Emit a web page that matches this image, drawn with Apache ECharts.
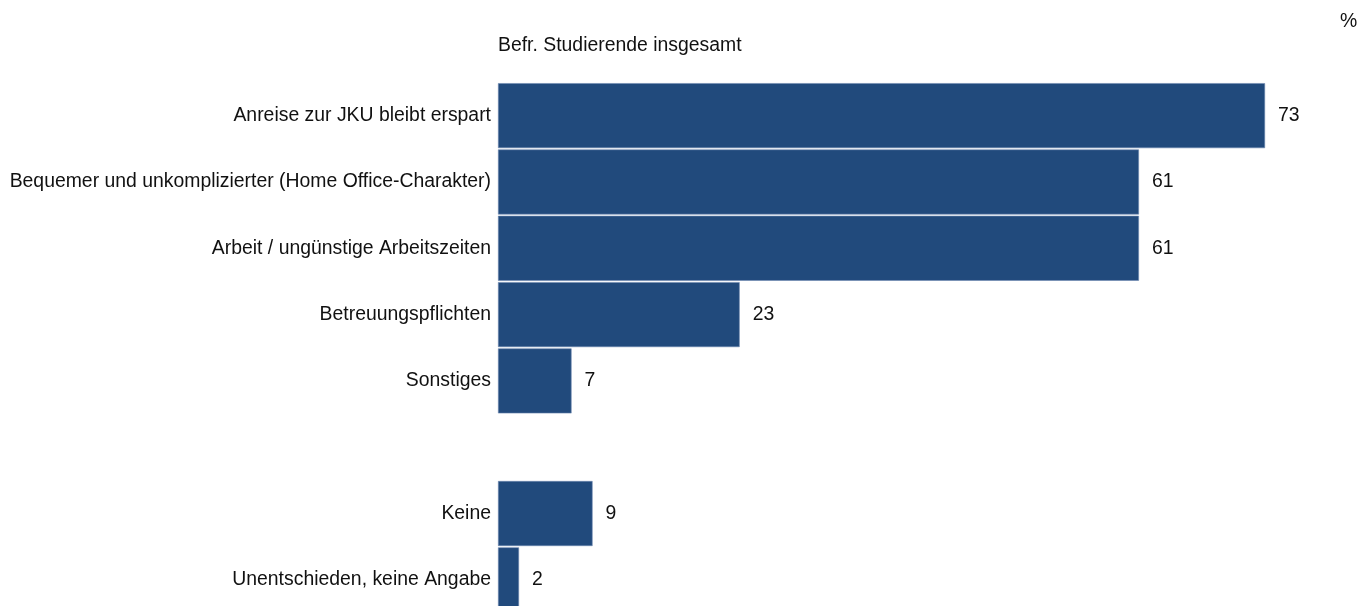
<!DOCTYPE html>
<html>
<head>
<meta charset="utf-8">
<script src="https://cdn.jsdelivr.net/npm/echarts@6/dist/echarts.min.js"></script>
<style>
  html, body { margin: 0; padding: 0; background: #fff; }
  #chart { width: 1371px; height: 606px; }
</style>
</head>
<body>
<div id="chart"></div>
<script>
// Reasons, top to bottom; the empty entry leaves a blank row before the last group
const categories = [
  'Anreise zur JKU bleibt erspart',
  'Bequemer und unkomplizierter (Home Office-Charakter)',
  'Arbeit / ungünstige Arbeitszeiten',
  'Betreuungspflichten',
  'Sonstiges',
  '',
  'Keine',
  'Unentschieden, keine Angabe'
];
// Share of respondents in percent (null = blank row)
const values = [73, 61, 61, 23, 7, null, 9, 2];

const groupTitle = 'Befr. Studierende insgesamt';
const unitLabel = '%';

const chart = echarts.init(document.getElementById('chart'), null, { renderer: 'canvas' });
const font = 'Liberation Sans, Arial, sans-serif';
const fs = 19.4;

chart.setOption({
  animation: false,
  backgroundColor: '#ffffff',
  textStyle: { fontFamily: font },
  graphic: [
    {
      type: 'text', left: 498, top: 36,
      style: { text: groupTitle, font: fs + 'px ' + font, fill: '#111111' }
    },
    {
      type: 'text', left: 1340, top: 12,
      style: { text: unitLabel, font: fs + 'px ' + font, fill: '#111111' }
    }
  ],
  grid: {
    left: 498, top: 82.5, width: 840.6, height: 530.5,
    outerBoundsMode: 'none'
  },
  xAxis: {
    type: 'value', min: 0, max: 80,
    show: false
  },
  yAxis: {
    type: 'category',
    inverse: true,
    data: categories,
    axisLine: { show: false },
    axisTick: { show: false },
    axisLabel: { margin: 7, fontSize: fs, color: '#111111', fontFamily: font }
  },
  series: [{
    type: 'bar',
    data: values,
    barCategoryGap: '2%',
    itemStyle: { color: '#214a7c', borderColor: '#6d88b0', borderWidth: 0.6 },
    label: {
      show: true, position: 'right', distance: 13,
      fontSize: fs, color: '#111111', fontFamily: font,
      formatter: p => (p.value == null ? '' : String(p.value))
    }
  }]
});
</script>
</body>
</html>
